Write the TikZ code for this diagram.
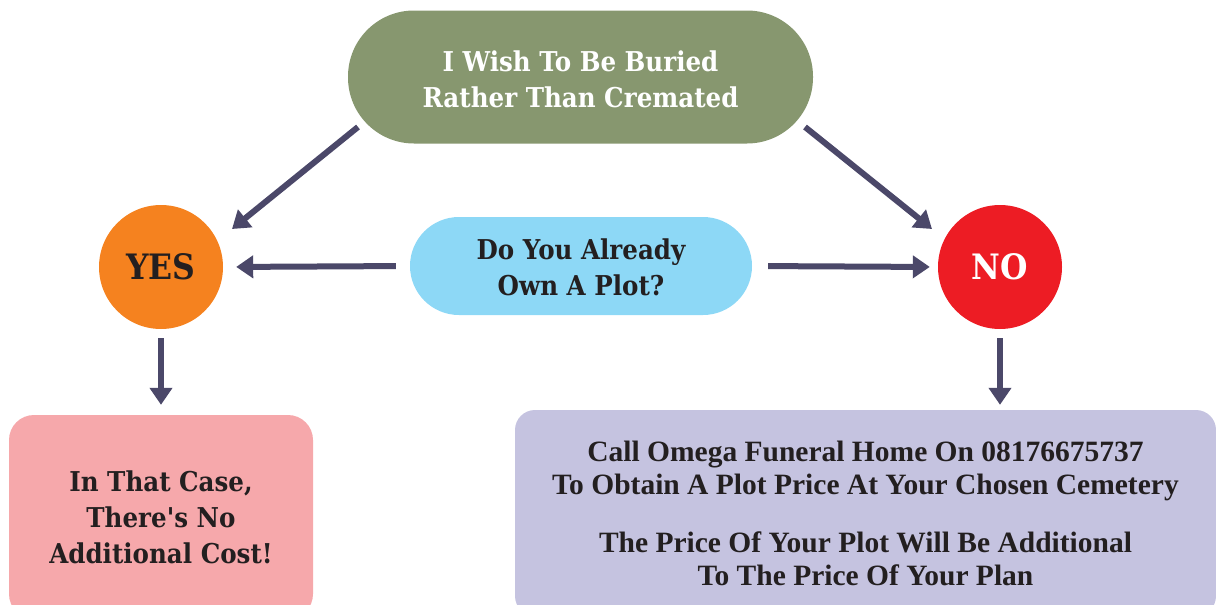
\documentclass[tikz,border=0pt]{standalone}
\usepackage{fontspec}
\setmainfont{DejaVu Serif}
\newfontfamily\hdfont[FakeStretch=0.9]{DejaVu Serif}
\newfontfamily\planfont{Liberation Serif}
\usetikzlibrary{arrows.meta}
\definecolor{sage}{HTML}{87976F}
\definecolor{orangec}{HTML}{F5821F}
\definecolor{redc}{HTML}{ED1C24}
\definecolor{skyc}{HTML}{8DD8F6}
\definecolor{pinkc}{HTML}{F6A8AB}
\definecolor{lilac}{HTML}{C5C3E0}
\definecolor{arrowc}{HTML}{4B4869}
\definecolor{ink}{HTML}{231F20}
\tikzset{
  boxtext/.style={align=center, font=\hdfont\bfseries\fontsize{27.3}{36}\selectfont, inner sep=0pt},
  pill/.style={boxtext, rectangle},
  bubble/.style={circle, minimum size=124pt, inner sep=0pt, font=\hdfont\bfseries\fontsize{35}{36}\selectfont},
  arr/.style={draw=arrowc, line width=6pt, -{Triangle[length=17pt,width=22pt]}},
}
\begin{document}
\begin{tikzpicture}[x=1pt,y=-1pt]
\useasboundingbox (0,0) rectangle (1216,605);
\node[pill, fill=sage, text=white, minimum width=465pt, minimum height=133pt, rounded corners=66pt] (top) at (580.5,77) {\rule{0pt}{26pt}I Wish To Be Buried\\Rather Than Cremated};
\node[pill, fill=skyc, text=ink, minimum width=342pt, minimum height=98pt, rounded corners=49pt] (mid) at (581,266) {\rule{0pt}{24pt}Do You Already\\Own A Plot?};
\node[bubble, fill=orangec, text=ink] (yes) at (161,267) {YES};
\node[bubble, fill=redc, text=white] (no) at (1000,267) {NO};
\node[pill, fill=pinkc, text=ink, minimum width=304pt, minimum height=204pt, rounded corners=25pt] (pink) at (161,517) {In That Case,\\There's No\\Additional Cost!};
\node[rectangle, fill=lilac, text=ink, minimum width=701pt, minimum height=206pt, rounded corners=20pt, align=center, inner sep=0pt, font={\planfont\bfseries\fontsize{29.5}{33}\selectfont}] (plan) at (865.5,513) {Call Omega Funeral Home On 08176675737\\To Obtain A Plot Price At Your Chosen Cemetery\\[25pt]The Price Of Your Plot Will Be Additional\\To The Price Of Your Plan};
\coordinate (a1s) at (358,127);
\coordinate (a1e) at (232,229);
\coordinate (a2s) at (805,127);
\coordinate (a2e) at (932,229);
\draw[arr] (a1s) -- (a1e);
\draw[arr] (a2s) -- (a2e);
\draw[arr, shorten <=14pt, shorten >=13pt] (mid.west) -- (yes.east);
\draw[arr, shorten <=16pt, shorten >=8pt] (mid.east) -- (no.west);
\draw[arr, shorten <=9pt, shorten >=10pt] (yes.south) -- (pink.north);
\draw[arr, shorten <=9pt, shorten >=5pt] (no.south) -- (plan.north -| no.south);
\end{tikzpicture}
\end{document}
